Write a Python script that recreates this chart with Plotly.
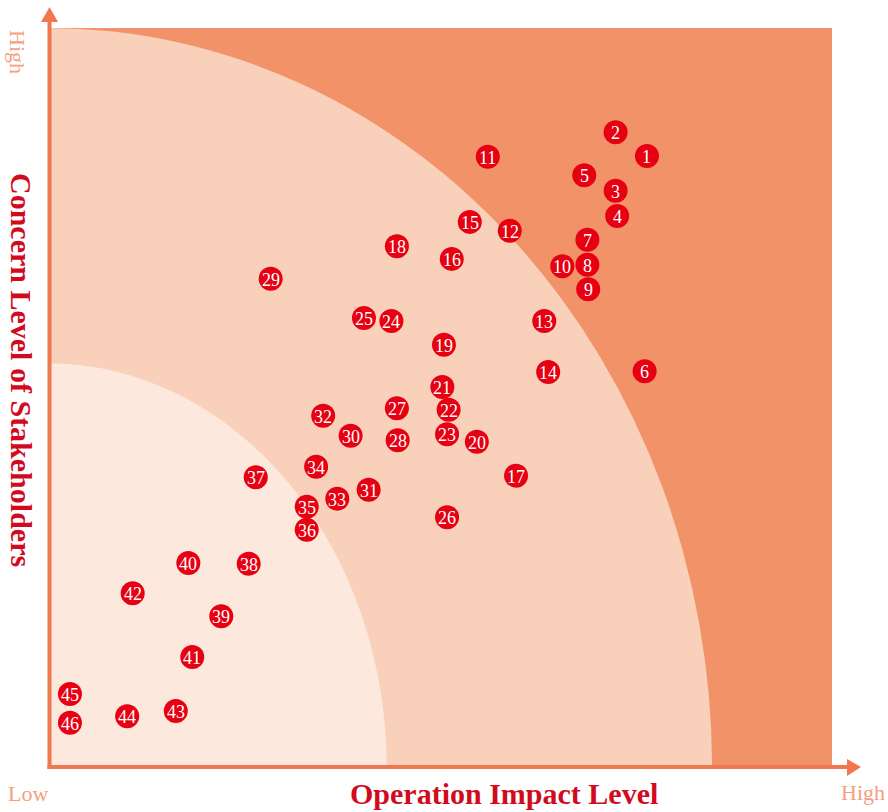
import plotly.graph_objects as go

# Issue numbers and their positions on the matrix (0-100 scale on both axes)
issue_ids = [str(i) for i in range(1, 47)]
impact = [76.4, 72.4, 72.4, 72.6, 68.4, 76.1, 68.8, 68.8, 68.9, 65.6,
          56.1, 58.9, 63.3, 63.8, 53.8, 51.5, 59.7, 44.5, 50.5, 54.7,
          50.3, 51.1, 50.9, 43.8, 40.3, 50.9, 44.5, 44.6, 28.4, 38.6,
          40.9, 35.1, 36.9, 34.2, 33.0, 33.0, 26.5, 25.6, 22.1, 17.9,
          18.4, 10.8, 16.3, 10.1, 2.8, 2.8]
concern = [82.7, 85.9, 78.0, 74.6, 80.1, 53.6, 71.4, 68.0, 64.7, 67.8,
           82.6, 72.6, 60.4, 53.5, 73.8, 68.8, 39.5, 70.5, 57.2, 44.1,
           51.5, 48.4, 45.1, 60.4, 60.8, 33.9, 48.6, 44.3, 66.1, 44.9,
           37.6, 47.6, 36.4, 40.7, 35.3, 32.2, 39.3, 27.6, 20.5, 27.7,
           15.0, 23.6, 7.7, 7.0, 10.0, 6.1]

# Zone boundaries (quarter ellipses centred on the origin)
outer_zone = (84.7, 100.0)
inner_zone = (43.2, 54.7)

W, H = 888, 812
ML, MR, MT, MB = 48, 56, 28, 44
PW, PH = W - ML - MR, H - MT - MB

DARK = "#F29269"
MID = "#F9D0BA"
LIGHT = "#FCE8DD"
AXIS = "#F07850"
SOFT = "#F4A07E"
RED_TXT = "#D20A1E"
RED_DOT = "#E60012"
FONT = "Liberation Serif"


def px(x, y):
    """Pixel position -> paper coordinates."""
    return (x - ML) / PW, (MT + PH - y) / PH


def tri(points):
    p = [px(*pt) for pt in points]
    return "M{},{} L{},{} L{},{} Z".format(p[0][0], p[0][1], p[1][0], p[1][1], p[2][0], p[2][1])


fig = go.Figure()

fig.add_trace(go.Scatter(
    x=impact, y=concern, mode="markers",
    marker=dict(size=24, color=RED_DOT, line=dict(width=0)),
    text=issue_ids, hoverinfo="text", showlegend=False,
))

shapes = [
    dict(type="rect", xref="x", yref="y", x0=0, y0=0, x1=100, y1=100,
         fillcolor=DARK, line=dict(width=0), layer="below"),
    dict(type="circle", xref="x", yref="y",
         x0=-outer_zone[0], x1=outer_zone[0], y0=-outer_zone[1], y1=outer_zone[1],
         fillcolor=MID, line=dict(width=0), layer="below"),
    dict(type="circle", xref="x", yref="y",
         x0=-inner_zone[0], x1=inner_zone[0], y0=-inner_zone[1], y1=inner_zone[1],
         fillcolor=LIGHT, line=dict(width=0), layer="below"),
]

# Axis lines with arrow heads
vx0, vy0 = px(49.5, 769)
vx1, vy1 = px(49.5, 18)
hx0, hy0 = px(47.5, 767)
hx1, hy1 = px(850, 767)
shapes += [
    dict(type="line", xref="paper", yref="paper", x0=vx0, y0=vy0, x1=vx1, y1=vy1,
         line=dict(color=AXIS, width=4)),
    dict(type="line", xref="paper", yref="paper", x0=hx0, y0=hy0, x1=hx1, y1=hy1,
         line=dict(color=AXIS, width=4)),
    dict(type="path", xref="paper", yref="paper",
         path=tri([(49.5, 7), (41, 22), (58, 22)]),
         fillcolor=AXIS, line=dict(width=0)),
    dict(type="path", xref="paper", yref="paper",
         path=tri([(861, 767), (847, 759), (847, 776)]),
         fillcolor=AXIS, line=dict(width=0)),
]


def label(text, x, y, size, color, angle=0, bold=False):
    ax, ay = px(x, y)
    return dict(text="<b>%s</b>" % text if bold else text,
                x=ax, y=ay, xref="paper", yref="paper",
                xanchor="center", yanchor="middle", showarrow=False,
                textangle=angle, font=dict(family=FONT, size=size, color=color))


annotations = [
    label("Operation Impact Level", 504, 793, 30, RED_TXT, bold=True),
    label("Concern Level of Stakeholders", 22, 370, 30, RED_TXT, angle=90, bold=True),
    label("High", 18, 52, 22, SOFT, angle=90),
    label("Low", 28, 793, 22, SOFT),
    label("High", 863, 792, 22, SOFT),
]

# Issue numbers centred inside each dot
for tid, xv, yv in zip(issue_ids, impact, concern):
    annotations.append(dict(
        text=tid, x=xv, y=yv, xref="x", yref="y",
        xanchor="center", yanchor="middle", showarrow=False, yshift=-1,
        font=dict(family=FONT, size=18, color="white"),
    ))

fig.update_layout(
    width=W, height=H,
    margin=dict(l=ML, r=MR, t=MT, b=MB),
    paper_bgcolor="white", plot_bgcolor="white",
    xaxis=dict(range=[0, 100], visible=False, fixedrange=True),
    yaxis=dict(range=[0, 100], visible=False, fixedrange=True),
    shapes=shapes, annotations=annotations,
)

fig.write_html("out.html")
